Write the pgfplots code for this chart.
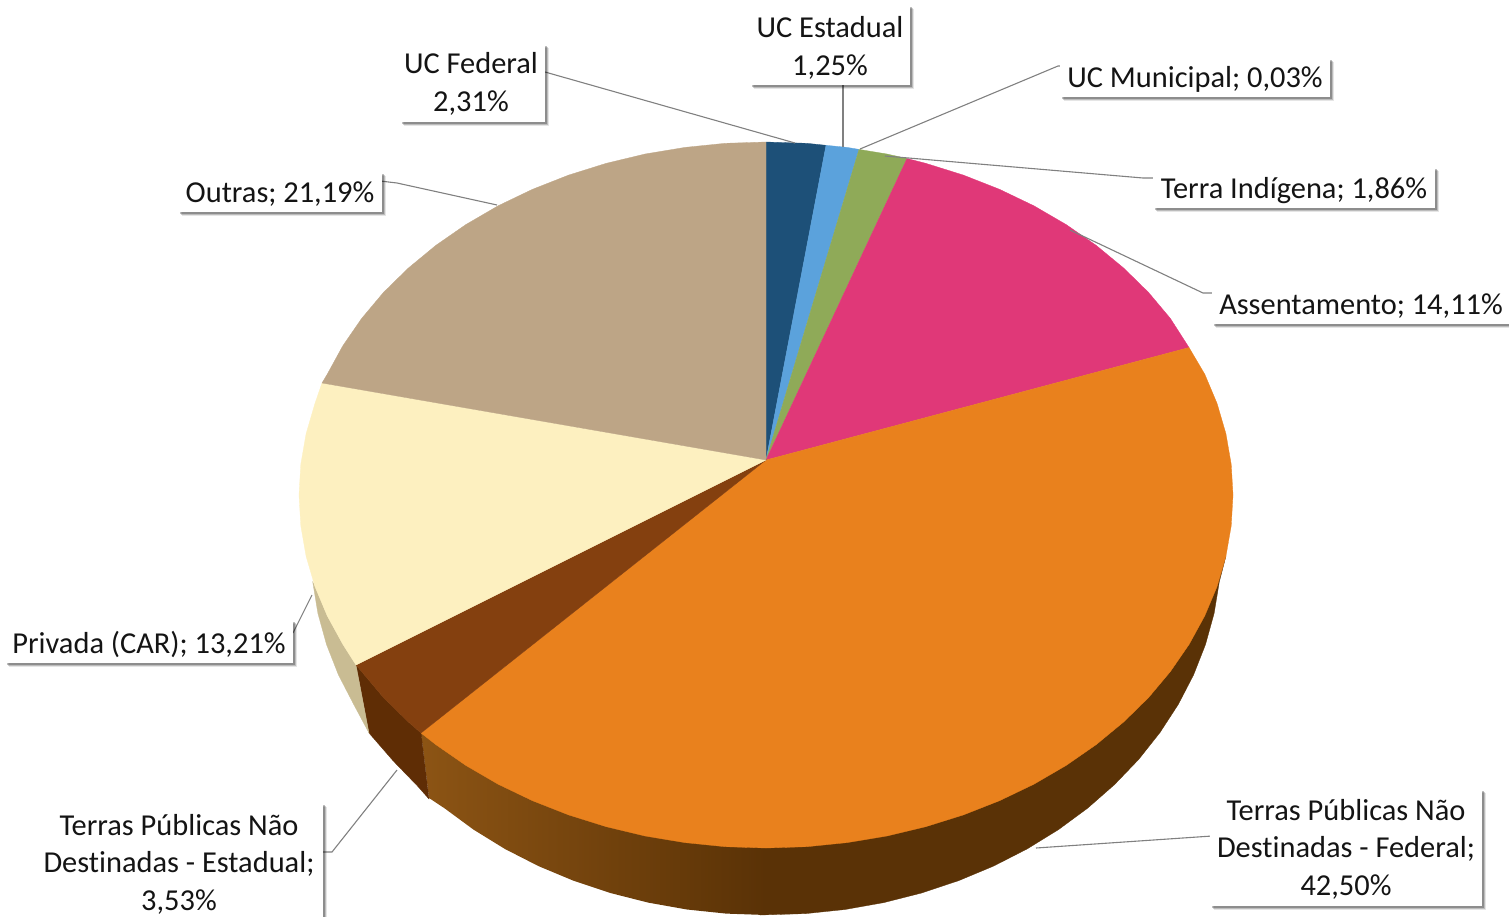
\documentclass[border=0pt]{standalone}
\usepackage{pgfplots}
\pgfplotsset{compat=1.18}
\usepackage{fontspec}
\setmainfont[Ligatures=NoCommon]{Carlito}
\usetikzlibrary{shadows}
\definecolor{cblue}{HTML}{1D5078}
\definecolor{clight}{HTML}{5BA2DC}
\definecolor{cgreen}{HTML}{8FAA58}
\definecolor{cpink}{HTML}{E03878}
\definecolor{corange}{HTML}{E9811D}
\definecolor{cbrown}{HTML}{84400F}
\definecolor{ccream}{HTML}{FDF0C0}
\definecolor{ctan}{HTML}{BDA586}
\definecolor{sidetan}{HTML}{C9BC93}
\definecolor{sidebrown}{HTML}{5F2D05}
\definecolor{sideL}{HTML}{8C5414}
\definecolor{sideD}{HTML}{5A3206}
\definecolor{lead}{HTML}{808080}
\tikzset{box/.style={fill=white,inner sep=0pt,
  drop shadow={shadow xshift=4pt,shadow yshift=-4pt,fill=black,opacity=.10},
  drop shadow={shadow xshift=3pt,shadow yshift=-3pt,fill=black,opacity=.18},
  drop shadow={shadow xshift=2pt,shadow yshift=-2pt,fill=black,opacity=.25}},
  txt/.style={align=center,inner sep=0pt,text=black!92,font=\fontsize{30.4}{37.5}\selectfont}}
\pgfplotsset{wedge/.style={fill=#1,draw=#1,line width=.3pt}}
\begin{document}
\begin{tikzpicture}[x=1pt,y=1pt]
\path[use as bounding box,clip] (0,0) rectangle (1509pt,916pt);
\begin{axis}[at={(0,0)},anchor=south west,scale only axis,width=1509pt,height=916pt,
  xmin=0,xmax=1509,ymin=0,ymax=916,y dir=reverse,hide axis,clip=false]
% sides
\addplot[wedge=sideD] coordinates {(1225.9,556.3)(1219.3,581.8)(1214.1,613.4)(1205.5,644.5)(1193.6,674.8)(1178.4,704.2)(1160,732.5)(1138.7,759.4)(1114.5,784.6)(1087.7,808.1)(1058.5,829.6)(1027,849)(993.5,866.1)(958.3,880.8)(921.6,893)(883.8,902.6)(845,909.5)(805.7,913.6)(760,915)(760,700)} -- cycle;
\addplot[draw=none,left color=sideL,right color=sideD] coordinates {(766,915)(726.3,913.6)(687,909.5)(648.2,902.6)(610.4,893)(573.7,880.8)(538.5,866.1)(505,849)(473.5,829.6)(444.3,808.1)(429,798)(421,733)(766,733)} -- cycle;
\addplot[wedge=sidebrown] coordinates {(356,665)(361.6,671.5)(383.4,697.5)(408.3,721.9)(421,733)(429,799)(417.5,786)(393.3,761)(369,733)} -- cycle;
\addplot[wedge=sidetan] coordinates {(356,665)(342.8,644.2)(327.2,615.7)(314.9,586.4)(312.7,581.8)(317.9,613.4)(326.5,644.5)(338.4,674.8)(353.6,704.2)(369,733)} -- cycle;
% top
\addplot[wedge=cblue] coordinates {(766,460)(766,142)(806.7,143.3)(826,145.3)} -- cycle;
\addplot[wedge=clight] coordinates {(766,460)(826,145.3)(847.1,147.4)(859,149.4)} -- cycle;
\addplot[wedge=cgreen] coordinates {(766,460)(859,149.4)(886.9,154)(907,158.5)} -- cycle;
\addplot[wedge=cpink] coordinates {(766,460)(907,158.5)(925.7,163.3)(963.4,175.1)(999.5,189.3)(1033.9,205.8)(1066.2,224.6)(1096.2,245.4)(1123.7,268.1)(1148.6,292.5)(1170.4,318.5)(1189,347.5)} -- cycle;
\addplot[wedge=corange] coordinates {(766,460)(1189,347.5)(1204.8,374.3)(1217.1,403.6)(1225.9,433.7)(1231.2,464.2)(1233,495)(1231.2,525.8)(1225.9,556.3)(1217.1,586.4)(1204.8,615.7)(1189.2,644.2)(1170.4,671.5)(1148.6,697.5)(1123.7,721.9)(1096.2,744.6)(1066.2,765.4)(1033.9,784.2)(999.5,800.7)(963.4,814.9)(925.7,826.7)(886.9,836)(847.1,842.6)(806.7,846.7)(766,848)(725.3,846.7)(684.9,842.6)(645.1,836)(606.3,826.7)(568.6,814.9)(532.5,800.7)(498.1,784.2)(465.8,765.4)(435.8,744.6)(421,733)} -- cycle;
\addplot[wedge=cbrown] coordinates {(766,460)(421,733)(408.3,721.9)(383.4,697.5)(361.6,671.5)(356,665)} -- cycle;
\addplot[wedge=ccream] coordinates {(766,460)(356,665)(342.8,644.2)(327.2,615.7)(314.9,586.4)(306.1,556.3)(300.8,525.8)(299,495)(300.8,464.2)(306.1,433.7)(314.9,403.6)(322,383)} -- cycle;
\addplot[wedge=ctan] coordinates {(766,460)(322,383)(327.2,374.3)(342.8,345.8)(361.6,318.5)(383.4,292.5)(408.3,268.1)(435.8,245.4)(465.8,224.6)(498.1,205.8)(532.5,189.3)(568.6,175.1)(606.3,163.3)(645.1,154)(684.9,147.4)(725.3,143.3)(766,142)} -- cycle;
% leader lines
\addplot[lead,line width=1.1pt] coordinates {(545,72)(795,143)};
\addplot[lead,line width=1.1pt] coordinates {(843,85)(843,147)};
\addplot[lead,line width=1.1pt] coordinates {(860,149)(1058,66)(1066,66)};
\addplot[lead,line width=1.1pt] coordinates {(885,156)(1143,178)(1155,178)};
\addplot[lead,line width=1.1pt] coordinates {(1070,230)(1203,293)(1214,293)};
\addplot[lead,line width=1.1pt] coordinates {(380,181)(397,183)(497,205)};
\addplot[lead,line width=1.1pt] coordinates {(293,633)(312,595)};
\addplot[lead,line width=1.1pt] coordinates {(323,852)(332,852)(397,770)};
\addplot[lead,line width=1.1pt] coordinates {(1036,848)(1212,836)};
% label boxes
\node[box,minimum width=160pt,minimum height=80pt] at (axis cs:830,45) {};
\node[box,minimum width=145pt,minimum height=78pt] at (axis cs:472.5,83) {};
\node[box,minimum width=270pt,minimum height=39pt] at (axis cs:1195,77.5) {};
\node[box,minimum width=282pt,minimum height=41pt] at (axis cs:1294,187.5) {};
\node[box,minimum width=300pt,minimum height=45pt] at (axis cs:1362,301) {};
\node[box,minimum width=204pt,minimum height=40pt] at (axis cs:280,192) {};
\node[box,minimum width=288pt,minimum height=43pt] at (axis cs:149,641.5) {};
\node[box,minimum width=285pt,minimum height=118pt] at (axis cs:180.5,862) {};
\node[box,minimum width=272pt,minimum height=117pt] at (axis cs:1346,847) {};
% label texts
\node[txt] at (axis cs:830,48) {UC Estadual\\1,25\%};
\node[txt] at (axis cs:471,84) {UC Federal\\2,31\%};
\node[txt] at (axis cs:1195,79.5) {UC Municipal; 0,03\%};
\node[txt] at (axis cs:1294,190.5) {Terra Indígena; 1,86\%};
\node[txt] at (axis cs:1361,306) {Assentamento; 14,11\%};
\node[txt] at (axis cs:280,194) {Outras; 21,19\%};
\node[txt] at (axis cs:149,644.5) {Privada (CAR); 13,21\%};
\node[txt] at (axis cs:179,864) {Terras Públicas Não\\Destinadas - Estadual;\\3,53\%};
\node[txt] at (axis cs:1346,849) {Terras Públicas Não\\Destinadas - Federal;\\42,50\%};
\end{axis}
\end{tikzpicture}
\end{document}
